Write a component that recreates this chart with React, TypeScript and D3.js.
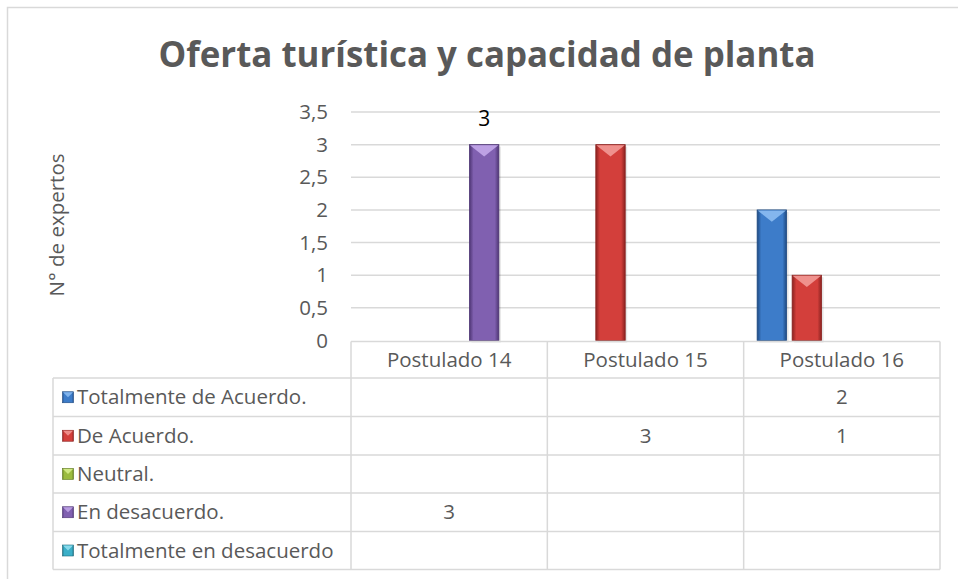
import React from "react";
import * as d3 from "d3";

const categories = ["Postulado 14", "Postulado 15", "Postulado 16"];
const seriesNames = [
  "Totalmente de Acuerdo.",
  "De Acuerdo.",
  "Neutral.",
  "En desacuerdo.",
  "Totalmente en desacuerdo",
];
const totalmenteDeAcuerdo = [null, null, 2];
const deAcuerdo = [null, 3, 1];
const neutral = [null, null, null];
const enDesacuerdo = [3, null, null];
const totalmenteEnDesacuerdo = [null, null, null];
const seriesValues = [totalmenteDeAcuerdo, deAcuerdo, neutral, enDesacuerdo, totalmenteEnDesacuerdo];
const yTicks = [0, 0.5, 1, 1.5, 2, 2.5, 3, 3.5];
const labeledSeries = [3];
const title = "Oferta turística y capacidad de planta";
const yTitle = "N° de expertos";

const colors = [
  { mid: "#3D7CC9", dark: "#1E4A82", light: "#8CBDF2" },
  { mid: "#D33F3B", dark: "#8A2220", light: "#F29A97" },
  { mid: "#9BBB3F", dark: "#5F7A1E", light: "#D8F08E" },
  { mid: "#8060B0", dark: "#4E3574", light: "#C3A8EA" },
  { mid: "#3BAFC8", dark: "#1D6C7E", light: "#96E2F2" },
];

const fmt = (v: number) => String(v).replace(".", ",");

export default function App() {
  const W = 958, H = 579;
  const plotL = 351, plotR = 940;
  const y = d3.scaleLinear().domain([0, 3.5]).range([340.5, 112]);
  const x0 = d3.scaleBand<string>().domain(categories).range([plotL, plotR]).padding(0);
  const x1 = d3
    .scaleBand<string>()
    .domain(seriesNames)
    .range([0, x0.bandwidth()])
    .paddingInner(0.16)
    .paddingOuter(0.385);
  const headerTop = 341.5, headerBot = 378;
  const rowLines = [378, 416.5, 455, 493, 531.5, 569.5];
  const tableL = 53;
  const grid = "#D9D9D9";
  const textC = "#595959";
  const font = "'Open Sans', Lato, sans-serif";
  const fs = 20.5;

  return (
    <svg width={W} height={H} style={{ position: "absolute", left: 0, top: 0, background: "#fff" }} fontFamily={font}>
      <defs>
        {colors.map((c, i) => (
          <linearGradient key={i} id={`g${i}`} x1="0" x2="1" y1="0" y2="0">
            <stop offset="0" stopColor={c.dark} />
            <stop offset="0.14" stopColor={c.mid} />
            <stop offset="0.86" stopColor={c.mid} />
            <stop offset="1" stopColor={c.dark} />
          </linearGradient>
        ))}
      </defs>
      <rect x={7.5} y={7.5} width={W} height={H} fill="#fff" stroke={grid} strokeWidth={1.5} />
      <text
        x={487}
        y={67}
        textAnchor="middle"
        fontSize={35}
        fontWeight="bold"
        fill={textC}
        textLength={657}
        lengthAdjust="spacingAndGlyphs"
      >
        {title}
      </text>
      <text
        transform={`translate(64,225) rotate(-90)`}
        textAnchor="middle"
        fontSize={fs}
        fill={textC}
      >
        {yTitle}
      </text>
      {yTicks.map((t) => (
        <g key={t}>
          {t > 0 && <line x1={plotL} x2={plotR} y1={y(t)} y2={y(t)} stroke={grid} strokeWidth={1.5} />}
          <text x={328} y={y(t)} dy="0.35em" textAnchor="end" fontSize={fs} fill={textC}>
            {fmt(t)}
          </text>
        </g>
      ))}
      {categories.map((cat, ci) =>
        seriesNames.map((s, si) => {
          const v = seriesValues[si][ci];
          if (v == null) return null;
          const bx = (x0(cat) as number) + (x1(s) as number);
          const bw = x1.bandwidth();
          const top = y(v);
          const bot = y(0);
          const c = colors[si];
          const tri = Math.min(12, bw / 2.5);
          return (
            <g key={`${ci}-${si}`}>
              <rect x={bx + 2} y={top + 2} width={bw} height={bot - top} fill="#000" opacity={0.1} />
              <rect x={bx} y={top} width={bw} height={bot - top} fill={`url(#g${si})`} stroke={c.dark} strokeWidth={0.8} />
              <path
                d={`M${bx + 0.5},${top + 0.5} L${bx + bw - 0.5},${top + 0.5} L${bx + bw / 2},${top + tri} Z`}
                fill={c.light}
                opacity={0.9}
              />
              {labeledSeries.includes(si) && (
                <text x={bx + bw / 2} y={top - 26} dy="0.35em" textAnchor="middle" fontSize={21} fill="#000">
                  {fmt(v)}
                </text>
              )}
            </g>
          );
        })
      )}
      {/* data table */}
      <line x1={plotL} x2={plotR} y1={headerTop} y2={headerTop} stroke={grid} strokeWidth={1.5} />
      {rowLines.map((ry) => (
        <line key={ry} x1={tableL} x2={plotR} y1={ry} y2={ry} stroke={grid} strokeWidth={1.5} />
      ))}
      <line x1={tableL} x2={tableL} y1={headerBot} y2={rowLines[rowLines.length - 1]} stroke={grid} strokeWidth={1.5} />
      {[...categories.map((c) => x0(c) as number), plotR].map((vx, i) => (
        <line key={i} x1={vx} x2={vx} y1={headerTop} y2={rowLines[rowLines.length - 1]} stroke={grid} strokeWidth={1.5} />
      ))}
      {categories.map((cat) => (
        <text
          key={cat}
          x={(x0(cat) as number) + x0.bandwidth() / 2}
          y={(headerTop + headerBot) / 2}
          dy="0.35em"
          textAnchor="middle"
          fontSize={fs}
          fill={textC}
        >
          {cat}
        </text>
      ))}
      {seriesNames.map((s, si) => {
        const ry0 = rowLines[si], ry1 = rowLines[si + 1];
        const cy = (ry0 + ry1) / 2;
        const c = colors[si];
        return (
          <g key={s}>
            <rect x={62.5} y={cy - 5.5} width={11} height={11} fill={`url(#g${si})`} stroke={c.dark} strokeWidth={0.6} />
            <path d={`M63,${cy - 5} L73,${cy - 5} L68,${cy} Z`} fill={c.light} opacity={0.85} />
            <text x={77} y={cy} dy="0.35em" fontSize={fs} fill={textC}>
              {s}
            </text>
            {categories.map((cat, ci) => {
              const v = seriesValues[si][ci];
              if (v == null) return null;
              return (
                <text
                  key={cat}
                  x={(x0(cat) as number) + x0.bandwidth() / 2}
                  y={cy}
                  dy="0.35em"
                  textAnchor="middle"
                  fontSize={fs}
                  fill={textC}
                >
                  {fmt(v)}
                </text>
              );
            })}
          </g>
        );
      })}
    </svg>
  );
}
